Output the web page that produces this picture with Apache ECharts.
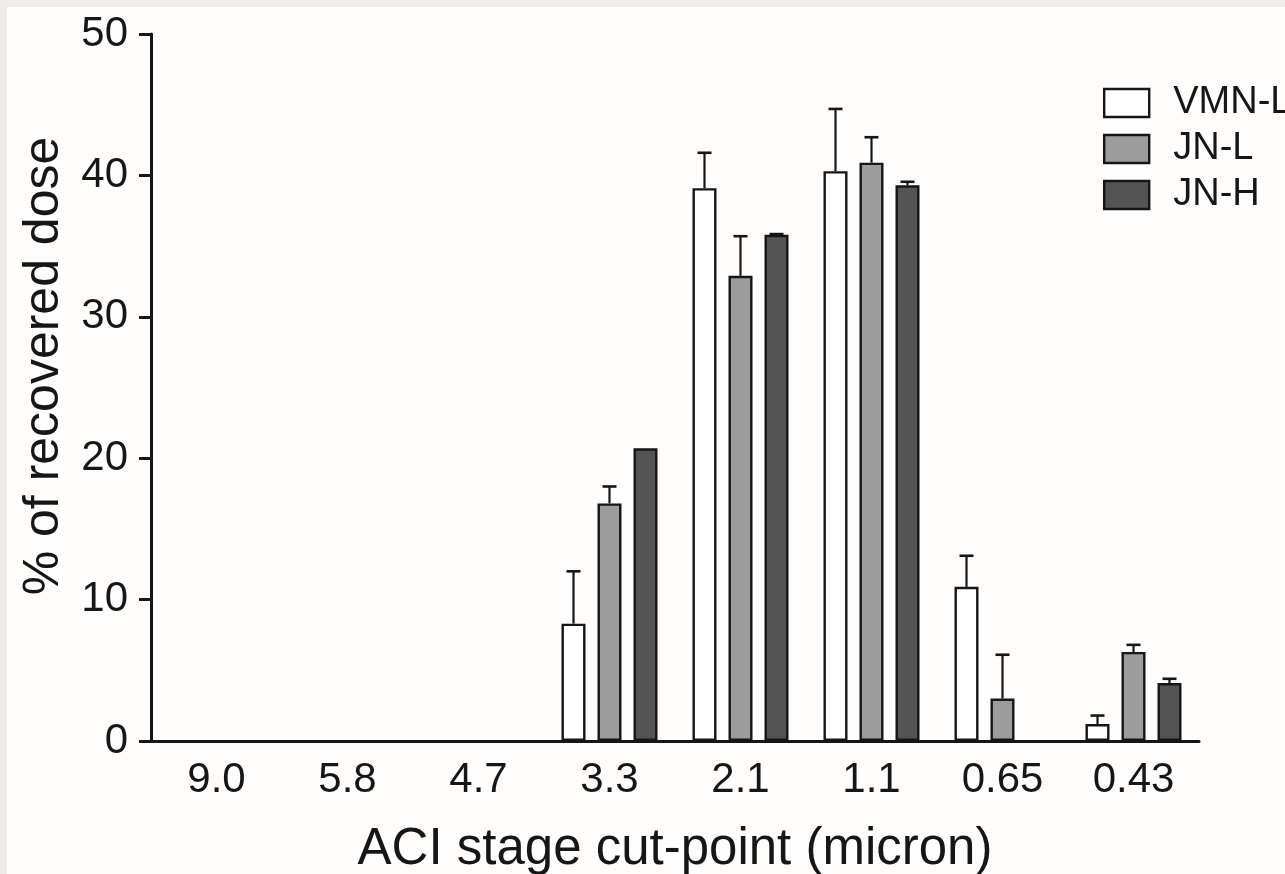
<!DOCTYPE html>
<html>
<head>
<meta charset="utf-8">
<script src="https://cdn.jsdelivr.net/npm/echarts@6/dist/echarts.min.js"></script>
<style>
  html, body { margin: 0; padding: 0; background: #eeece6; width: 1285px; height: 874px; overflow: hidden; }
  #chart { position: absolute; left: 7px; top: 7px; width: 1278px; height: 867px; background: #fefdfc; }
</style>
</head>
<body>
<div id="chart"></div>
<script>
const categories = ['9.0', '5.8', '4.7', '3.3', '2.1', '1.1', '0.65', '0.43'];
const seriesNames = ['VMN-L', 'JN-L', 'JN-H'];
const vmnL    = [null, null, null, 8.3, 39.1, 40.3, 10.9, 1.2];
const vmnLErr = [null, null, null, 3.7, 2.5, 4.4, 2.2, 0.6];
const jnL     = [null, null, null, 16.8, 32.9, 40.9, 3.0, 6.3];
const jnLErr  = [null, null, null, 1.2, 2.8, 1.8, 3.1, 0.5];
const jnH     = [null, null, null, 20.7, 35.8, 39.3, null, 4.1];
const jnHErr  = [null, null, null, 0, 0.05, 0.25, null, 0.3];
const yTicks = { min: 0, max: 50, interval: 10 };

const FONT = 'Arial, "Liberation Sans", Helvetica, sans-serif';
const INK = '#161616';
const BAR_W = 24;
const BAR_GAP = 0.5;
const fills = ['#ffffff', '#9b9c9b', '#545454'];
const values = [vmnL, jnL, jnH];
const errors = [vmnLErr, jnLErr, jnHErr];

const chart = echarts.init(document.getElementById('chart'), null, { renderer: 'canvas' });

const barSeries = seriesNames.map((name, i) => ({
  name: name,
  type: 'bar',
  data: values[i],
  barWidth: BAR_W,
  barGap: (BAR_GAP * 100) + '%',
  itemStyle: { color: fills[i], borderColor: INK, borderWidth: 2.4 },
  emphasis: { disabled: true },
  z: 2
}));

const errSeries = seriesNames.map((name, i) => {
  const data = [];
  values[i].forEach((v, k) => {
    if (v != null && errors[i][k] != null) data.push([k, v, v + errors[i][k]]);
  });
  return {
    type: 'custom',
    name: name + ' err',
    data: data,
    z: 3,
    silent: true,
    renderItem: function (params, api) {
      const k = api.value(0);
      const lo = api.coord([k, api.value(1)]);
      const hi = api.coord([k, api.value(2)]);
      const step = BAR_W * (1 + BAR_GAP);
      const x = lo[0] + (i - 1) * step;
      const half = 7;
      if (Math.abs(lo[1] - hi[1]) < 0.5) return null;
      return {
        type: 'group',
        children: [
          { type: 'line', shape: { x1: x, y1: lo[1], x2: x, y2: hi[1] }, style: { stroke: INK, lineWidth: 2.2 } },
          { type: 'line', shape: { x1: x - half, y1: hi[1], x2: x + half, y2: hi[1] }, style: { stroke: INK, lineWidth: 2.6 } }
        ]
      };
    }
  };
});

const option = {
  backgroundColor: '#fefdfc',
  animation: false,
  textStyle: { fontFamily: FONT, color: INK },
  grid: { left: 144, top: 27, width: 1048, height: 707, containLabel: false, outerBoundsMode: 'none' },
  legend: {
    data: seriesNames,
    orient: 'vertical',
    left: 1096,
    top: 77,
    padding: 0,
    icon: 'rect',
    itemWidth: 45,
    itemHeight: 28,
    itemGap: 8,
    selectedMode: false,
    itemStyle: { borderColor: INK, borderWidth: 2.4 },
    textStyle: { fontFamily: FONT, fontSize: 38, color: INK, lineHeight: 38, padding: [0, 0, 0, 19] }
  },
  xAxis: {
    type: 'category',
    data: categories,
    boundaryGap: true,
    name: 'ACI stage cut-point (micron)',
    nameLocation: 'middle',
    nameGap: 83,
    nameTextStyle: { fontFamily: FONT, fontSize: 51, color: INK },
    axisLine: { lineStyle: { color: INK, width: 3 } },
    axisTick: { alignWithLabel: true, length: 12, lineStyle: { color: INK, width: 3 } },
    axisLabel: { fontFamily: FONT, fontSize: 42, color: INK, margin: 18 },
    splitLine: { show: false }
  },
  yAxis: {
    type: 'value',
    min: yTicks.min,
    max: yTicks.max,
    interval: yTicks.interval,
    axisLine: { show: true, lineStyle: { color: INK, width: 3 } },
    axisTick: { show: true, length: 12, lineStyle: { color: INK, width: 3 } },
    axisLabel: { fontFamily: FONT, fontSize: 42, color: INK, margin: 23 },
    splitLine: { show: false }
  },
  graphic: [{
    type: 'text',
    x: 37,
    y: 359,
    rotation: Math.PI / 2,
    style: {
      text: '% of recovered dose',
      fontFamily: FONT,
      fontSize: 50,
      fill: INK,
      textAlign: 'center',
      textVerticalAlign: 'middle'
    }
  }],
  series: barSeries.concat(errSeries)
};

chart.setOption(option);
</script>
</body>
</html>
